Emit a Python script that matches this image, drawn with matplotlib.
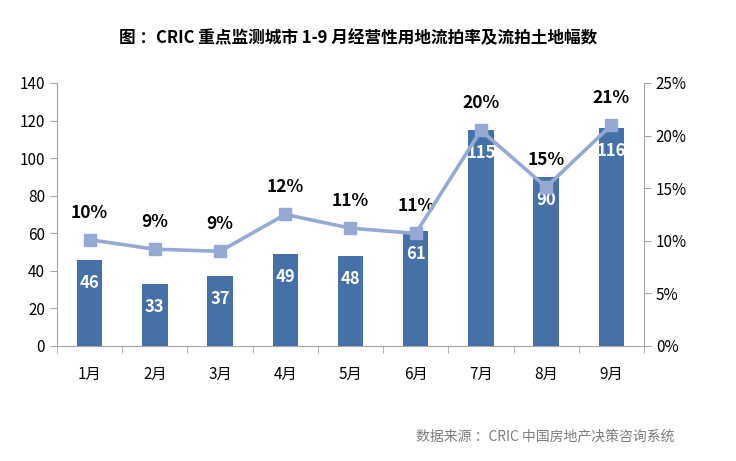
import matplotlib
matplotlib.use('Agg')
import matplotlib.pyplot as plt
from matplotlib.ticker import FuncFormatter

plt.rcParams['font.family'] = ['Noto Sans CJK SC', 'DejaVu Sans']

months = ['1月', '2月', '3月', '4月', '5月', '6月', '7月', '8月', '9月']
counts = [46, 33, 37, 49, 48, 61, 115, 90, 116]
rates = [10.1, 9.2, 9.0, 12.5, 11.2, 10.7, 20.5, 15.1, 21.0]
rate_labels = ['10%', '9%', '9%', '12%', '11%', '11%', '20%', '15%', '21%']

bar_color = '#4670A8'
line_color = '#94AAD2'
axis_color = '#A6A6A6'

fig = plt.figure(figsize=(7.36, 4.61), dpi=100)
ax = fig.add_axes([0.0774, 0.2495, 0.7976, 0.5705])
x = list(range(len(months)))

ax.bar(x, counts, width=0.39, color=bar_color, zorder=2)
ax.set_xlim(-0.5, len(months) - 0.5)
ax.set_ylim(0, 140)
ax.set_yticks(range(0, 141, 20))
ax.set_xticks(x)
ax.set_xticklabels(months, fontsize=11)
ax.set_xticks([i + 0.5 for i in range(-1, len(months))], minor=True)
ax.tick_params(axis='x', which='major', length=0, pad=14)
ax.tick_params(axis='x', which='minor', length=5, color=axis_color)
ax.tick_params(axis='y', labelsize=11, length=5, color=axis_color)
for s in ['top', 'right']:
    ax.spines[s].set_visible(False)
for s in ['left', 'bottom']:
    ax.spines[s].set_color(axis_color)

# white count labels inside the bars
for xi, c in zip(x, counts):
    ax.annotate(str(c), (xi, c), xytext=(0, -23), textcoords='offset pixels',
                ha='center', va='center', color='white', fontsize=12,
                fontweight='bold', zorder=5)

ax2 = ax.twinx()
ax2.plot(x, rates, color=line_color, lw=2.6, marker='s', markersize=9, zorder=4)
ax2.set_ylim(0, 25)
ax2.set_yticks(range(0, 26, 5))
ax2.yaxis.set_major_formatter(FuncFormatter(lambda v, p: f'{int(v)}%'))
ax2.tick_params(axis='y', labelsize=11, length=5, color=axis_color)
for s in ['top', 'left', 'bottom']:
    ax2.spines[s].set_visible(False)
ax2.spines['right'].set_color(axis_color)

for xi, r, lab in zip(x, rates, rate_labels):
    ax2.annotate(lab, (xi, r), xytext=(0, 27), textcoords='offset pixels',
                 ha='center', va='center', color='black', fontsize=12.5,
                 fontweight='bold')

fig.text(0.487, 0.918, '图 ：CRIC 重点监测城市 1-9 月经营性用地流拍率及流拍土地幅数',
         ha='center', va='center', fontsize=12, fontweight='bold')
fig.text(0.917, 0.054, '数据来源 ：CRIC 中国房地产决策咨询系统', ha='right', va='center',
         fontsize=10, color='#7F7F7F')

fig.savefig('out.png', dpi=100)
